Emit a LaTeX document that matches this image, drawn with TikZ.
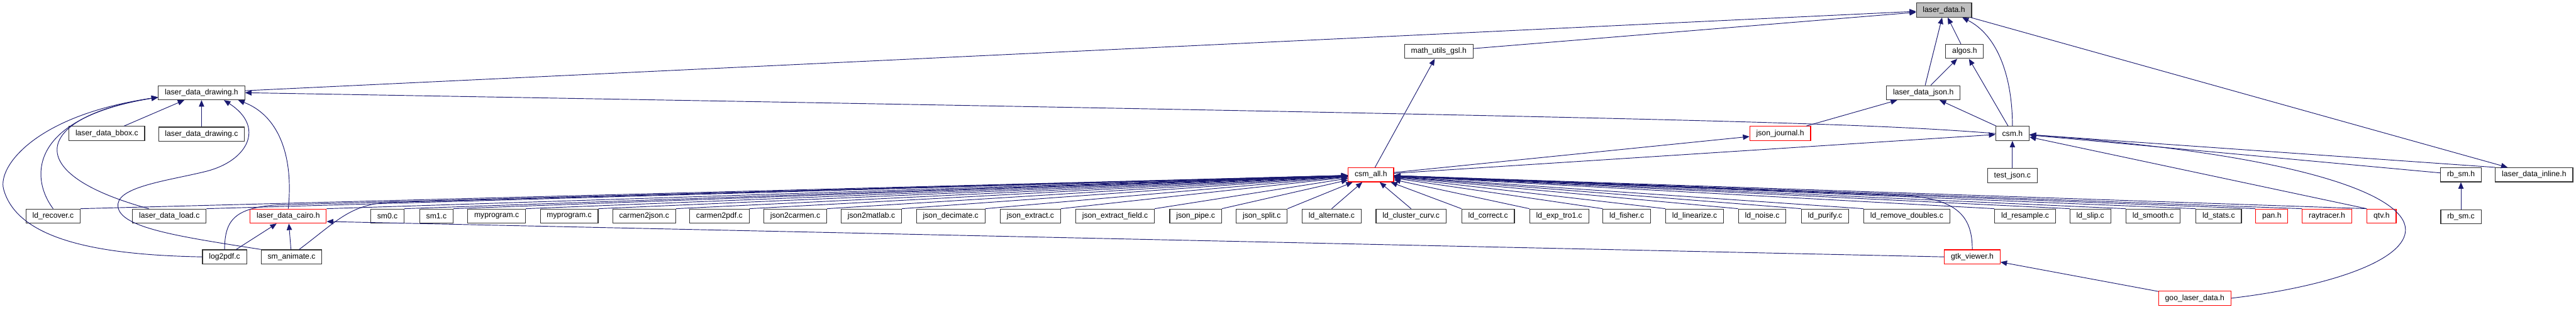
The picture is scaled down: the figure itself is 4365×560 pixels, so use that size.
\documentclass[tikz,border=0pt]{standalone}
\usepackage{fontspec}
\setmainfont{Liberation Sans}
\usetikzlibrary{arrows.meta,positioning}
\definecolor{edgeblue}{HTML}{191970}

\begin{document}
\begin{tikzpicture}[x=1pt,y=-1pt,>={Triangle[length=11pt,width=9pt]},
  nd/.style={draw=black!80,line width=1.2pt,minimum height=24pt,inner xsep=11pt,inner ysep=0pt,font=\fontsize{13}{15}\selectfont},
  ndred/.style={nd,draw=red},
  ndgray/.style={nd,fill=black!25},
  dep/.style={->,draw=edgeblue,line width=1pt}]
\useasboundingbox (0,0) rectangle (4365,560);
% headers at the top
\node[ndgray] (ld) at (3294,17) {laser\_data.h};
\node[nd] (mug) at (2438,87) {math\_utils\_gsl.h};
\node[nd] (alg) at (3329,87) {algos.h};
\node[nd] (ldd) at (341.5,157) {laser\_data\_drawing.h};
\node[nd] (ldj) at (3259,157) {laser\_data\_json.h};
\node[nd] (bbox) at (181,226) {laser\_data\_bbox.c};
\node[nd,below=45pt of ldd] (lddc) {laser\_data\_drawing.c};
\node[ndred] (jj) at (3016.5,226) {json\_journal.h};
\node[nd] (csm) at (3410,226) {csm.h};
\node[ndred] (all) at (2323,296) {csm\_all.h};
\node[nd,below=46pt of csm] (tj) {test\_json.c};
\node[nd] (rbh) at (4170,296) {rb\_sm.h};
\node[nd] (ldi) at (4294,296) {laser\_data\_inline.h};
% files that include csm_all.h
\node[nd] (rec) at (90,366) {ld\_recover.c};
\node[nd] (load) at (287,366) {laser\_data\_load.c};
\node[ndred] (cairo) at (488.5,366) {laser\_data\_cairo.h};
\node[nd] (sm0) at (656.5,366) {sm0.c};
\node[nd] (sm1) at (739.5,366) {sm1.c};
\node[nd] (myp1) at (841.5,366) {myprogram.c};
\node[nd] (myp2) at (964.5,366) {myprogram.c};
\node[nd] (c2j) at (1091.5,366) {carmen2json.c};
\node[nd] (c2p) at (1219,366) {carmen2pdf.c};
\node[nd] (j2c) at (1347.5,366) {json2carmen.c};
\node[nd] (j2m) at (1476.5,366) {json2matlab.c};
\node[nd] (jdec) at (1611,366) {json\_decimate.c};
\node[nd] (jext) at (1746,366) {json\_extract.c};
\node[nd] (jextf) at (1889.5,366) {json\_extract\_field.c};
\node[nd] (jpipe) at (2026,366) {json\_pipe.c};
\node[nd] (jsplit) at (2138,366) {json\_split.c};
\node[nd] (alt) at (2256.5,366) {ld\_alternate.c};
\node[nd] (clus) at (2391,366) {ld\_cluster\_curv.c};
\node[nd] (corr) at (2521.5,366) {ld\_correct.c};
\node[nd] (exp) at (2642,366) {ld\_exp\_tro1.c};
\node[nd] (fish) at (2756.5,366) {ld\_fisher.c};
\node[nd] (lin) at (2871.5,366) {ld\_linearize.c};
\node[nd] (noise) at (2986,366) {ld\_noise.c};
\node[nd] (pur) at (3092.5,366) {ld\_purify.c};
\node[nd] (rmd) at (3231,366) {ld\_remove\_doubles.c};
\node[nd] (res) at (3431.5,366) {ld\_resample.c};
\node[nd] (slip) at (3542,366) {ld\_slip.c};
\node[nd] (smo) at (3648.5,366) {ld\_smooth.c};
\node[nd] (stats) at (3759.5,366) {ld\_stats.c};
\node[ndred] (pan) at (3849.5,366) {pan.h};
\node[ndred] (ray) at (3943,366) {raytracer.h};
\node[ndred] (qtv) at (4035.5,366) {qtv.h};
\node[nd,below=46pt of rbh] (rbc) {rb\_sm.c};
% bottom rows
\node[nd] (l2p) at (380.5,435) {log2pdf.c};
\node[nd] (anim) at (494,435) {sm\_animate.c};
\node[ndred] (gtk) at (3342,435) {gtk\_viewer.h};
\node[ndred] (goo) at (3719,505) {goo\_laser\_data.h};

% laser_data.h
\draw[dep] (ldd) -- (ld);
\draw[dep] (mug) -- (ld);
\draw[dep] (ldj) -- (ld);
\draw[dep] (alg) -- (ld);
\draw[dep] (csm.north) .. controls (3410,130) and (3385,60) .. ([xshift=31pt]ld.south);
\draw[dep] (ld) -- (ldi);
\draw[dep] (ldj) -- (alg);
\draw[dep] (csm) -- (alg);
\draw[dep] (csm) -- (ldj);
\draw[dep] (jj) -- (ldj);
% csm_all.h upwards
\draw[dep] (all) -- (mug);
\draw[dep] (all) -- (jj);
\draw[dep] (all) -- (csm);
% csm.h
\draw[dep] (tj) -- (csm);
\draw[dep] (rbh) -- (csm);
\draw[dep] (ldi.north west) -- (csm);
\draw[dep] (qtv.north west) -- (csm);
\draw[dep] (goo.east) .. controls (3950,485) and (4078,440) .. (4076,388) .. controls (4074,330) and (3900,262) .. (csm);
\draw[dep] (rbc) -- (rbh);
% laser_data_drawing.h
\draw[dep] (csm.west) .. controls (3150,208) and (2900,200) .. (ldd.east);
\draw[dep] (bbox) -- (ldd);
\draw[dep] (lddc) -- (ldd);
\draw[dep] (rec.north) .. controls (50,300) and (50,200) .. (ldd.186);
\draw[dep] ([xshift=-35pt]load.north) .. controls (20,290) and (70,195) .. (ldd.186);
\draw[dep] (l2p.west) .. controls (180,432) and (30,410) .. (6,320) .. controls (-4,282) and (60,195) .. (ldd.186);
\draw[dep] (anim.north west) .. controls (300,400) and (195,385) .. (200,345) .. controls (204,315) and (290,305) .. (350,290) .. controls (420,272) and (450,215) .. ([xshift=38pt]ldd.south);
\draw[dep] (cairo.north) .. controls (498,260) and (470,195) .. ([xshift=62pt]ldd.south);
% laser_data_cairo.h
\draw[dep] (anim) -- (cairo);
\draw[dep] (l2p) -- (cairo);
\draw[dep] (gtk.west) -- (cairo.-8);
\draw[dep] (goo) -- (gtk);
% csm_all.h
\draw[dep] (rec.north east) -- (all);
\draw[dep] (load.north east) -- (all);
\draw[dep] (cairo.north east) -- (all);
\draw[dep] (sm0.north east) -- (all);
\draw[dep] (sm1.north east) -- (all);
\draw[dep] (myp1.north east) -- (all);
\draw[dep] (myp2.north east) -- (all);
\draw[dep] (c2j.north east) -- (all);
\draw[dep] (c2p.north east) -- (all);
\draw[dep] (j2c.north east) -- (all);
\draw[dep] (j2m.north east) -- (all);
\draw[dep] (jdec.north east) -- (all);
\draw[dep] (jext.north east) -- (all);
\draw[dep] (jextf.north east) -- (all);
\draw[dep] (jpipe.north east) -- (all);
\draw[dep] (jsplit.north east) -- (all);
\draw[dep] (alt.north) -- (all);
\draw[dep] (clus.north) -- (all);
\draw[dep] (corr.north west) -- (all);
\draw[dep] (exp.north west) -- (all);
\draw[dep] (fish.north west) -- (all);
\draw[dep] (lin.north west) -- (all);
\draw[dep] (noise.north west) -- (all);
\draw[dep] (pur.north west) -- (all);
\draw[dep] (rmd.north west) -- (all);
\draw[dep] (res.north west) -- (all);
\draw[dep] (slip.north west) -- (all);
\draw[dep] (smo.north west) -- (all);
\draw[dep] (stats.north west) -- (all);
\draw[dep] (pan.north west) -- (all);
\draw[dep] (ray.north west) -- (all);
\draw[dep] (qtv.north west) -- (all);
\draw[dep] (l2p.north) .. controls (381,375) and (395,352) .. (470,347) -- (all);
\draw[dep] ([xshift=13pt]anim.north) .. controls (570,375) and (590,350) .. (650,343) -- (all);
\draw[dep] (gtk.north) .. controls (3342,370) and (3320,340) .. (3240,332) -- (all);
\end{tikzpicture}
\end{document}
